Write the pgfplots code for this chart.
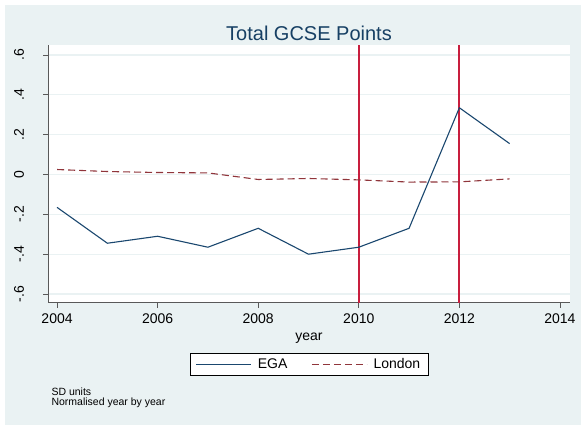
\documentclass[border=0pt]{standalone}
\usepackage{pgfplots}
\pgfplotsset{compat=1.18}
\usepackage{fontspec}
\setmainfont{Liberation Sans}
\definecolor{bgc}{RGB}{234,242,243}
\definecolor{ega}{RGB}{26,71,111}
\definecolor{lon}{RGB}{144,53,59}
\definecolor{xlinecol}{RGB}{200,30,62}
\begin{document}
\begin{tikzpicture}
\path[use as bounding box] (0,0) rectangle (581pt,425pt);
\fill[bgc] (5pt,0pt) rectangle (581pt,420pt);
\node[font=\fontsize{20}{24}\selectfont, text=ega!90!black] at (309pt,392pt) {Total GCSE Points};
\node[font=\fontsize{10.5}{11}\selectfont, anchor=west] at (48pt,33pt) {SD units};
\node[font=\fontsize{10.5}{11}\selectfont, anchor=west] at (48pt,22pt) {Normalised year by year};
\begin{axis}[
  at={(48pt,122pt)}, anchor=south west,
  scale only axis, width=522pt, height=258pt,
  xmin=2003.82, xmax=2014.2, ymin=-0.645, ymax=0.65,
  axis background/.style={fill=white},
  axis x line*=bottom, axis y line*=left,
  axis line style={black!65, line width=1pt, -},
  xtick={2004,2006,...,2014},
  ytick={-0.6,-0.4,-0.2,0,0.2,0.4,0.6},
  yticklabels={-.6,-.4,-.2,0,.2,.4,.6},
  xticklabel style={/pgf/number format/1000 sep=},
  /pgf/number format/assume math mode=true,
  tick align=outside, tick style={black!65, line width=0.8pt},
  major tick length=5pt,
  ymajorgrids, grid style={bgc, line width=1.2pt},
  ticklabel style={font=\fontsize{14}{16}\selectfont},
  yticklabel style={rotate=90, anchor=center, yshift=24pt},
  xticklabel style={yshift=-2pt},
  xlabel={year}, xlabel style={font=\fontsize{14}{16}\selectfont, yshift=-3pt},
  legend style={at={(0.5,-0.238)}, anchor=center, draw=black, fill=white,
    font=\fontsize{14}{16}\selectfont, legend columns=2,
    /tikz/every odd column/.append style={column sep=4pt},
    /tikz/every even column/.append style={column sep=22pt},
    inner xsep=6pt, inner ysep=3pt},
  legend cell align=left,
  legend image code/.code={\draw[#1] (0pt,0pt) -- (55pt,0pt);},
]
\addplot[draw=xlinecol, line width=1.9pt, forget plot] coordinates {(2010,-0.645) (2010,0.65)};
\addplot[draw=xlinecol, line width=1.9pt, forget plot] coordinates {(2012,-0.645) (2012,0.65)};
\addplot[ega, line width=1.1pt] coordinates {
(2004,-0.165) (2005,-0.345) (2006,-0.31) (2007,-0.365) (2008,-0.27)
(2009,-0.40) (2010,-0.365) (2011,-0.27) (2012,0.335) (2013,0.155)};
\addlegendentry{EGA}
\addplot[lon, line width=1.1pt, dash pattern=on 7pt off 4pt] coordinates {
(2004,0.025) (2005,0.015) (2006,0.01) (2007,0.008) (2008,-0.025)
(2009,-0.02) (2010,-0.027) (2011,-0.038) (2012,-0.037) (2013,-0.022)};
\addlegendentry{London}
\end{axis}
\end{tikzpicture}
\end{document}
